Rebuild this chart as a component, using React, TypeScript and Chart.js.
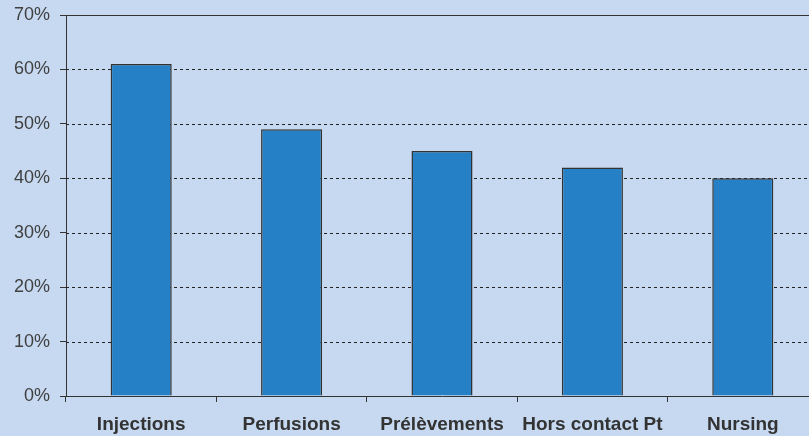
import React, { useEffect, useRef } from "react";
import { Chart, registerables } from "chart.js";

Chart.register(...registerables);

const categories = ["Injections", "Perfusions", "Prélèvements", "Hors contact Pt", "Nursing"];
const values = [61, 49, 45, 42, 40];
const yTicks = [0, 10, 20, 30, 40, 50, 60, 70];

const BG = "#c6d9f0";
const BAR = "#2580c6";
const AXIS = "#333333";

const gridPlugin = {
  id: "dottedGrid",
  beforeDatasetsDraw(chart: any) {
    const { ctx, chartArea, scales } = chart;
    const y = scales.y;
    ctx.save();
    ctx.lineWidth = 1;
    yTicks.forEach((v) => {
      if (v === 0) return;
      const py = Math.round(y.getPixelForValue(v)) + 0.5;
      ctx.setLineDash(v === 70 ? [] : [3, 3]);
      ctx.strokeStyle = v === 70 ? AXIS : "#222222";
      ctx.beginPath();
      ctx.moveTo(chartArea.left, py);
      ctx.lineTo(chartArea.right, py);
      ctx.stroke();
    });
    ctx.restore();
  },
};

export default function App() {
  const ref = useRef<HTMLCanvasElement>(null);
  useEffect(() => {
    const canvas = ref.current!;
    const chart = new Chart(canvas, {
      type: "bar",
      data: {
        labels: categories,
        datasets: [
          {
            data: values,
            backgroundColor: BAR,
            borderColor: AXIS,
            borderWidth: 1.5,
            barPercentage: 0.406,
            categoryPercentage: 1,
          },
        ],
      },
      options: {
        responsive: false,
        animation: false,
        devicePixelRatio: 1,
        layout: { padding: { top: 15, right: 12, bottom: 0, left: 0 } },
        plugins: { legend: { display: false }, tooltip: { enabled: false } },
        scales: {
          x: {
            grid: {
              display: true,
              drawOnChartArea: false,
              drawTicks: true,
              tickLength: 6,
              tickColor: AXIS,
              offset: true,
            },
            border: { display: true, color: AXIS, width: 1 },
            ticks: {
              color: "#333333",
              padding: 11,
              maxRotation: 0,
              autoSkip: false,
              font: { family: "'Liberation Sans', Arial, sans-serif", size: 19, weight: "bold" },
            },
            afterFit: (s: any) => {
              s.height = 40;
              s.paddingLeft = 0;
              s.paddingRight = 0;
            },
          },
          y: {
            min: 0,
            max: 70,
            grid: {
              display: true,
              drawOnChartArea: false,
              drawTicks: true,
              tickLength: 6,
              tickColor: AXIS,
            },
            border: { display: true, color: AXIS, width: 1 },
            ticks: {
              stepSize: 10,
              color: "#404040",
              padding: 10,
              callback: (v: any) => v + "%",
              font: { family: "'Liberation Sans', Arial, sans-serif", size: 18 },
            },
            afterFit: (s: any) => {
              s.width = 66;
              s.paddingTop = 0;
              s.paddingBottom = 0;
            },
          },
        },
      },
      plugins: [gridPlugin],
    });
    return () => chart.destroy();
  }, []);
  return (
    <div
      style={{
        position: "fixed",
        left: 0,
        top: 0,
        width: 809,
        height: 436,
        overflow: "hidden",
        background: BG,
      }}
    >
      <canvas ref={ref} width={830} height={436} style={{ display: "block" }} />
    </div>
  );
}
